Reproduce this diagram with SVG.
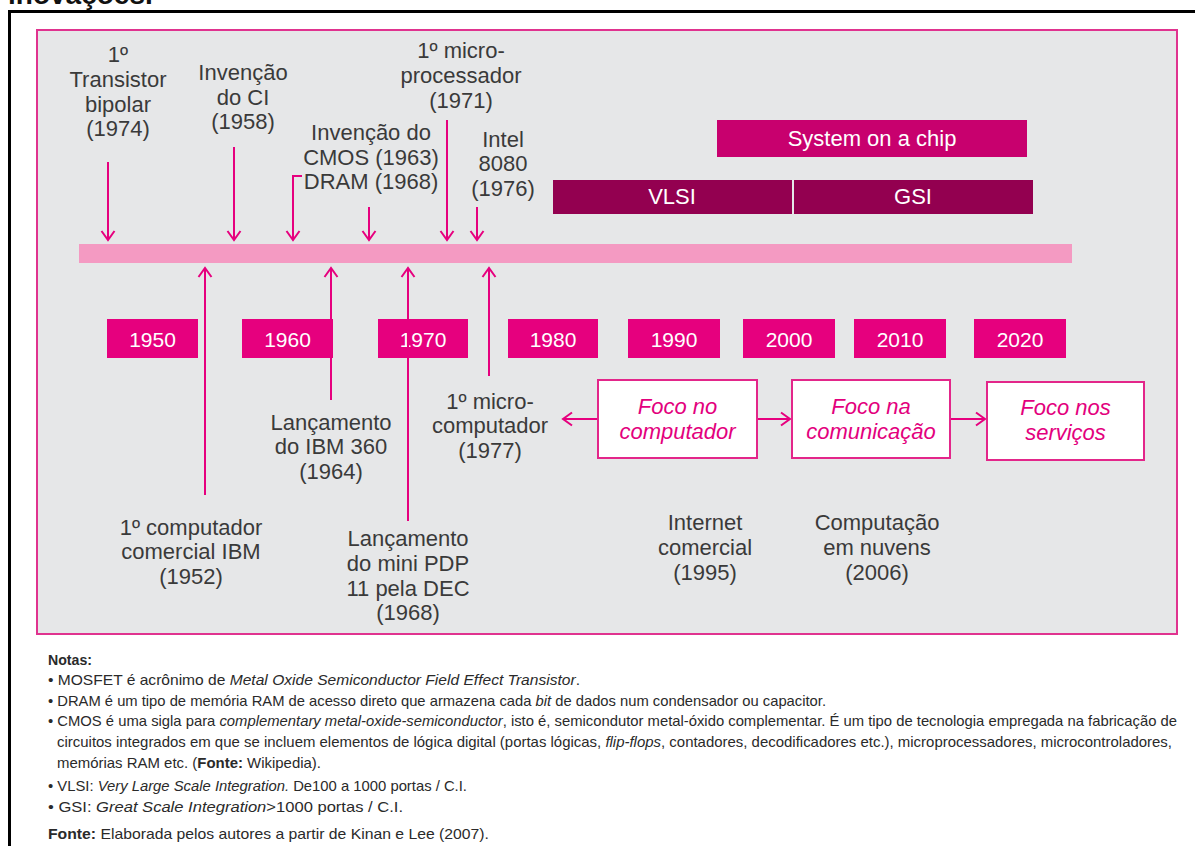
<svg xmlns="http://www.w3.org/2000/svg" width="1195" height="846" viewBox="0 0 1195 846">
<style>
.lbl{font-family:"Liberation Sans",Arial,sans-serif;font-size:22px;fill:#3a3a3a;text-anchor:middle}
.yr{font-family:"Liberation Sans",Arial,sans-serif;font-size:21px;fill:#ffffff;text-anchor:middle}
.bar{font-family:"Liberation Sans",Arial,sans-serif;font-size:22px;fill:#ffffff;text-anchor:middle}
.foco{font-family:"Liberation Sans",Arial,sans-serif;font-size:22px;font-style:italic;fill:#e3007d;text-anchor:middle}
.ybox{fill:#e6007e}
.fbox{fill:#ffffff;stroke:#e3268a;stroke-width:2}
.con{stroke:#e6007e;stroke-width:2;fill:none}
.note{font-family:"Liberation Sans Narrow","Liberation Sans",Arial,sans-serif;font-size:15px;fill:#2a2a2a}
.b{font-weight:bold}
.i{font-style:italic}
</style>
<defs>
<marker id="arr" markerUnits="userSpaceOnUse" markerWidth="20" markerHeight="20" viewBox="-12 -10 14 20" refX="0" refY="0" orient="auto-start-reverse" overflow="visible">
<path d="M-9,-6.5 L0,0 L-9,6.5" fill="none" stroke="#e6007e" stroke-width="2"/>
</marker>
</defs>
<rect width="1195" height="846" fill="#ffffff"/>
<text x="8" y="4" font-family="'Liberation Sans',Arial,sans-serif" font-size="28" font-weight="bold" fill="#111">inovações.</text>
<path d="M9.5,846 V11.5 H1195" fill="none" stroke="#000" stroke-width="3"/>

<g id="panel">
<rect x="37" y="30" width="1140" height="604" fill="#e6e7e8" stroke="#e0338f" stroke-width="2"/>
</g>
<g id="timeline"><rect x="79" y="244" width="993" height="19" fill="#f49ac2"/></g>

<g id="years">
<g id="y1950"><rect class="ybox" x="107" y="319" width="91" height="39"/><text class="yr" x="152.5" y="347">1950</text></g>
<g id="y1960"><rect class="ybox" x="242" y="319" width="91" height="39"/><text class="yr" x="287.5" y="347">1960</text></g>
<g id="y1970"><rect class="ybox" x="378" y="319" width="90" height="39"/><text class="yr" x="423" y="347">1970</text></g>
<g id="y1980"><rect class="ybox" x="508" y="319" width="90" height="39"/><text class="yr" x="553" y="347">1980</text></g>
<g id="y1990"><rect class="ybox" x="628" y="319" width="92" height="39"/><text class="yr" x="674" y="347">1990</text></g>
<g id="y2000"><rect class="ybox" x="743" y="319" width="92" height="39"/><text class="yr" x="789" y="347">2000</text></g>
<g id="y2010"><rect class="ybox" x="854" y="319" width="92" height="39"/><text class="yr" x="900" y="347">2010</text></g>
<g id="y2020"><rect class="ybox" x="974" y="319" width="92" height="39"/><text class="yr" x="1020" y="347">2020</text></g>
</g>

<g id="soc"><rect x="717" y="120" width="310" height="37" fill="#c8006e"/><text class="bar" x="872" y="146">System on a chip</text></g>
<g id="vlsi"><rect x="553" y="180" width="239" height="34" fill="#930050"/><text class="bar" x="672" y="204">VLSI</text></g>
<g id="gsi"><rect x="794" y="180" width="239" height="34" fill="#930050"/><text class="bar" x="913" y="204">GSI</text></g>

<g id="connectors">
<line class="con" x1="108" y1="162" x2="108" y2="240" marker-end="url(#arr)"/>
<line class="con" x1="234" y1="147" x2="234" y2="240" marker-end="url(#arr)"/>
<path class="con" d="M302,176 H293 V240" marker-end="url(#arr)"/>
<line class="con" x1="369" y1="207" x2="369" y2="240" marker-end="url(#arr)"/>
<line class="con" x1="447" y1="120" x2="447" y2="240" marker-end="url(#arr)"/>
<line class="con" x1="477" y1="207" x2="477" y2="240" marker-end="url(#arr)"/>
<line class="con" x1="205" y1="495" x2="205" y2="268" marker-end="url(#arr)"/>
<line class="con" x1="331" y1="400" x2="331" y2="268" marker-end="url(#arr)"/>
<line class="con" x1="408" y1="521" x2="408" y2="268" marker-end="url(#arr)"/>
<line class="con" x1="489" y1="376" x2="489" y2="268" marker-end="url(#arr)"/>
<line class="con" x1="563" y1="419" x2="598" y2="419" marker-start="url(#arr)"/>
<line class="con" x1="757" y1="419" x2="790" y2="419" marker-end="url(#arr)"/>
<line class="con" x1="950" y1="419" x2="985" y2="419" marker-end="url(#arr)"/>
</g>

<g id="f1"><rect class="fbox" x="598" y="380" width="159" height="78"/><text class="foco" x="677.5" y="414">Foco no</text><text class="foco" x="677.5" y="439">computador</text></g>
<g id="f2"><rect class="fbox" x="792" y="380" width="158" height="78"/><text class="foco" x="871" y="414">Foco na</text><text class="foco" x="871" y="439">comunicação</text></g>
<g id="f3"><rect class="fbox" x="987" y="382" width="157" height="78"/><text class="foco" x="1065.5" y="415">Foco nos</text><text class="foco" x="1065.5" y="440">serviços</text></g>

<g id="l-transistor"><text class="lbl" x="118" y="62">1º</text><text class="lbl" x="118" y="87">Transistor</text><text class="lbl" x="118" y="112">bipolar</text><text class="lbl" x="118" y="136">(1974)</text></g>
<g id="l-ci"><text class="lbl" x="243" y="80">Invenção</text><text class="lbl" x="243" y="105">do CI</text><text class="lbl" x="243" y="129">(1958)</text></g>
<g id="l-cmos"><text class="lbl" x="371" y="140">Invenção do</text><text class="lbl" x="371" y="165">CMOS (1963)</text><text class="lbl" x="371" y="189">DRAM (1968)</text></g>
<g id="l-micro"><text class="lbl" x="461" y="58">1º micro-</text><text class="lbl" x="461" y="83">processador</text><text class="lbl" x="461" y="108">(1971)</text></g>
<g id="l-intel"><text class="lbl" x="503" y="147">Intel</text><text class="lbl" x="503" y="171">8080</text><text class="lbl" x="503" y="196">(1976)</text></g>
<g id="l-ibm360"><text class="lbl" x="331" y="430">Lançamento</text><text class="lbl" x="331" y="454">do IBM 360</text><text class="lbl" x="331" y="479">(1964)</text></g>
<g id="l-microcomp"><text class="lbl" x="490" y="409">1º micro-</text><text class="lbl" x="490" y="433">computador</text><text class="lbl" x="490" y="458">(1977)</text></g>
<g id="l-ibm"><text class="lbl" x="191" y="535">1º computador</text><text class="lbl" x="191" y="559">comercial IBM</text><text class="lbl" x="191" y="584">(1952)</text></g>
<g id="l-pdp"><text class="lbl" x="408" y="546">Lançamento</text><text class="lbl" x="408" y="571">do mini PDP</text><text class="lbl" x="408" y="596">11 pela DEC</text><text class="lbl" x="408" y="620">(1968)</text></g>
<g id="l-internet"><text class="lbl" x="705" y="530">Internet</text><text class="lbl" x="705" y="555">comercial</text><text class="lbl" x="705" y="580">(1995)</text></g>
<g id="l-cloud"><text class="lbl" x="877" y="530">Computação</text><text class="lbl" x="877" y="555">em nuvens</text><text class="lbl" x="877" y="580">(2006)</text></g>

<g id="notes">
<text class="note b" x="48" y="665" textLength="44" lengthAdjust="spacingAndGlyphs">Notas:</text>
<text class="note" x="48" y="685" textLength="532" lengthAdjust="spacingAndGlyphs">•  MOSFET é acrônimo de <tspan class="i">Metal Oxide Semiconductor Field Effect Transistor</tspan>.</text>
<text class="note" x="48" y="706" textLength="778" lengthAdjust="spacingAndGlyphs">•  DRAM é um tipo de memória RAM de acesso direto que armazena cada <tspan class="i">bit</tspan> de dados num condensador ou capacitor.</text>
<text class="note" x="48" y="726" textLength="1129" lengthAdjust="spacingAndGlyphs">•  CMOS é uma sigla para <tspan class="i">complementary metal-oxide-semiconductor</tspan>, isto é, semicondutor metal-óxido complementar. É um tipo de tecnologia empregada na fabricação de</text>
<text class="note" x="57" y="747" textLength="1115" lengthAdjust="spacingAndGlyphs">circuitos integrados em que se incluem elementos de lógica digital (portas lógicas, <tspan class="i">flip-flops</tspan>, contadores, decodificadores etc.), microprocessadores, microcontroladores,</text>
<text class="note" x="57" y="768" textLength="264" lengthAdjust="spacingAndGlyphs">memórias RAM etc. (<tspan class="b">Fonte:</tspan> Wikipedia).</text>
<text class="note" x="48" y="791" textLength="419" lengthAdjust="spacingAndGlyphs">•  VLSI: <tspan class="i">Very Large Scale Integration.</tspan> De100 a 1000 portas / C.I.</text>
<text class="note" x="48" y="812" textLength="355" lengthAdjust="spacingAndGlyphs">•  GSI: <tspan class="i">Great Scale Integration</tspan>&gt;1000 portas / C.I.</text>
<text class="note" x="48" y="839" textLength="441" lengthAdjust="spacingAndGlyphs"><tspan class="b">Fonte:</tspan> Elaborada pelos autores a partir de Kinan e Lee (2007).</text>
</g>
</svg>
